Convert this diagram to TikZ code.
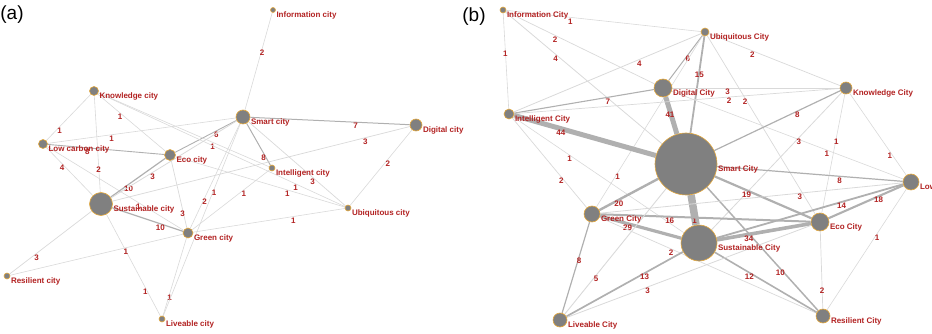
\documentclass[tikz,border=0pt]{standalone}
\usepackage{fontspec}
\setmainfont{Liberation Sans}
\usetikzlibrary{backgrounds}
\definecolor{labred}{RGB}{178,34,34}
\definecolor{citybrd}{RGB}{228,168,60}
\definecolor{cityfill}{RGB}{128,128,128}

\begin{document}
\begin{tikzpicture}[
  x=1pt, y=-1pt,
  font=\fontsize{8}{9.6}\selectfont\bfseries,
  city/.style ={circle, draw=citybrd, fill=cityfill, line width=0.6pt,
                inner sep=0pt, minimum size=#1},
  nlab/.style ={text=labred, inner sep=0.5pt, yshift=-5pt},
  elab/.style ={text=labred, inner sep=0pt, yshift=-4pt},
  lk/.style   ={draw=gray!30, line width=#1},
  hk/.style   ={draw=gray!62, line width=#1},
  panel/.style={font=\fontsize{19}{22}\selectfont}
]
\useasboundingbox (0,0) rectangle (932,334);

% ---------- Panel (a) ----------
\node[panel] (ta) at (12,15) {(a)};

\node[city=5pt,  label={[nlab]east:Information city}] (inf) at (273,10)  {};
\node[city=9pt,  label={[nlab]east:Knowledge city}]   (kno) at (94,91)   {};
\node[city=9pt,  label={[nlab]east:Low carbon city}]  (low) at (43,144)  {};
\node[city=11pt, label={[nlab]east:Eco city}]         (eco) at (170,155) {};
\node[city=14pt, label={[nlab]east:Smart city}]       (sma) at (243,117) {};
\node[city=12pt, label={[nlab]east:Digital city}]     (dig) at (416,125) {};
\node[city=6pt,  label={[nlab]east:Intelligent city}] (int) at (272,168) {};
\node[city=23pt, label={[nlab]east:Sustainable city}] (sus) at (101,204) {};
\node[city=6pt,  label={[nlab]east:Ubiquitous city}]  (ubi) at (348,208) {};
\node[city=10pt, label={[nlab]east:Green city}]       (gre) at (188,233) {};
\node[city=6pt,  label={[nlab]east:Resilient city}]   (res) at (7,276)   {};
\node[city=6pt,  label={[nlab]east:Liveable city}]    (liv) at (162,319) {};

\begin{scope}[on background layer]
  \draw[lk=0.6pt]  (inf) -- node[elab, pos=0.37] {2}  (sma);
  \draw[hk=1.0pt]  (sma) -- node[elab, pos=0.66] {7}  (dig);
  \draw[hk=0.9pt]  (sma) -- node[elab, pos=0.33] {6}  (eco);
  \draw[hk=1.0pt]  (sma) -- node[elab, pos=0.72] {8}  (int);
  \draw[lk=0.7pt]  (sma) -- node[elab, pos=0.66] {3}  (ubi);
  \draw[lk=0.6pt]  (dig) -- node[elab, pos=0.39] {2}  (ubi);
  \draw[lk=0.6pt]  (kno) -- node[elab, pos=0.70] {1}  (low);
  \draw[lk=0.6pt]  (kno) -- node[elab, pos=0.33] {1}  (eco);
  \draw[lk=0.6pt]  (kno) -- node[elab, pos=0.72] {2}  (sus);
  \draw[lk=0.6pt]  (kno) -- node[elab, pos=0.67] {1}  (int);
  \draw[lk=0.6pt]  (kno) -- node[elab, pos=0.80] {1}  (ubi);
  \draw[hk=0.9pt]  (low) -- node[elab, pos=0.34] {8}  (eco);
  \draw[lk=0.6pt]  (low) -- node[elab, pos=0.34] {1}  (sma);
  \draw[lk=0.6pt]  (low) -- node[elab, pos=0.34] {4}  (sus);
  \draw[lk=0.6pt]  (low) -- node[elab, pos=0.67] {1}  (gre);
  \draw[hk=1.2pt]  (sus) -- node[elab, pos=0.33] {10} (eco);
  \draw[lk=0.8pt]  (sus) -- node[elab, pos=0.33] {3}  (sma);
  \draw[hk=1.2pt]  (sus) -- node[elab, pos=0.68] {10} (gre);
  \draw[lk=0.7pt]  (sus) -- node[elab, pos=0.85] {3}  (dig);
  \draw[lk=0.7pt]  (sus) -- node[elab, pos=0.67] {3}  (res);
  \draw[lk=0.6pt]  (sus) -- node[elab, pos=0.72] {1}  (liv);
  \draw[lk=0.7pt]  (eco) -- node[elab, pos=0.73] {3}  (gre);
  \draw[lk=0.6pt]  (eco) -- node[elab, pos=0.66] {1}  (ubi);
  \draw[lk=0.6pt]  (gre) -- node[elab, pos=0.29] {2}  (sma);
  \draw[lk=0.6pt]  (gre) -- node[elab, pos=0.67] {1}  (int);
  \draw[lk=0.6pt]  (gre) -- node[elab, pos=0.66] {1}  (ubi);
  \draw[lk=0.6pt]  (gre) -- node[elab, pos=0.33] {1}  (res);
  \draw[lk=0.6pt]  (liv) -- node[elab, pos=0.28] {1}  (gre);
  \draw[lk=0.6pt]  (liv) -- node[elab, pos=0.66] {1}  (sma);
\end{scope}

% ---------- Panel (b) ----------
\node[panel] (tb) at (474,17) {(b)};

\node[city=6pt,  label={[nlab]east:Information City}] (binf) at (503,10)  {};
\node[city=8pt,  label={[nlab]east:Ubiquitous City}]  (bubi) at (705,32)  {};
\node[city=18pt, label={[nlab]east:Digital City}]     (bdig) at (663,88)  {};
\node[city=12pt, label={[nlab]east:Knowledge City}]   (bkno) at (846,88)  {};
\node[city=10pt, label={[nlab]east:Intelligent City}] (bint) at (509,114) {};
\node[city=62pt, label={[nlab]east:Smart City}]       (bsma) at (686,164) {};
\node[city=16pt, label={[nlab]east:Low}]              (blow) at (911,182) {};
\node[city=18pt, label={[nlab]east:Eco City}]         (beco) at (820,222) {};
\node[city=16pt, label={[nlab]east:Green City}]       (bgre) at (592,214) {};
\node[city=36pt, label={[nlab]east:Sustainable City}] (bsus) at (699,243) {};
\node[city=14pt, label={[nlab]east:Liveable City}]    (bliv) at (560,320) {};
\node[city=14pt, label={[nlab]east:Resilient City}]   (bres) at (823,316) {};

\begin{scope}[on background layer]
  \draw[lk=0.6pt]  (binf) -- node[elab, pos=0.33] {1}  (bubi);
  \draw[lk=0.6pt]  (binf) -- node[elab, pos=0.38] {1}  (bint);
  \draw[lk=0.7pt]  (binf) -- node[elab, pos=0.33] {2}  (bdig);
  \draw[lk=0.8pt]  (binf) -- node[elab, pos=0.32] {4}  (bsma);
  \draw[lk=0.8pt]  (bubi) -- node[elab, pos=0.33] {4}  (bint);
  \draw[hk=1.0pt]  (bubi) -- node[elab, pos=0.43] {6}  (bdig);
  \draw[hk=1.8pt]  (bubi) -- node[elab, pos=0.36] {15} (bsma);
  \draw[lk=0.7pt]  (bubi) -- node[elab, pos=0.33] {2}  (bkno);
  \draw[lk=0.7pt]  (bubi) -- node[elab, pos=0.35] {2}  (beco);
  \draw[lk=0.6pt]  (bubi) -- node[elab, pos=0.80] {1}  (bgre);
  \draw[hk=5.0pt]  (bdig) -- node[elab, pos=0.38] {41} (bsma);
  \draw[hk=1.1pt]  (bdig) -- node[elab, pos=0.33] {7}  (bint);
  \draw[lk=0.8pt]  (bdig) -- node[elab, pos=0.33] {3}  (bkno);
  \draw[lk=0.6pt]  (bdig) -- node[elab, pos=0.67] {1}  (blow);
  \draw[lk=0.7pt]  (bint) -- node[elab, pos=0.66] {2}  (bkno);
  \draw[hk=5.0pt]  (bint) -- node[elab, pos=0.33] {44} (bsma);
  \draw[lk=0.7pt]  (bint) -- node[elab, pos=0.66] {2}  (bgre);
  \draw[lk=0.6pt]  (bint) -- node[elab, pos=0.33] {1}  (bsus);
  \draw[hk=1.2pt]  (bkno) -- node[elab, pos=0.34] {8}  (bsma);
  \draw[lk=0.8pt]  (bkno) -- node[elab, pos=0.33] {3}  (bsus);
  \draw[lk=0.6pt]  (bkno) -- node[elab, pos=0.37] {1}  (beco);
  \draw[lk=0.6pt]  (bkno) -- node[elab, pos=0.71] {1}  (blow);
  \draw[hk=1.2pt]  (bsma) -- node[elab, pos=0.66] {8}  (blow);
  \draw[hk=2.2pt]  (bsma) -- node[elab, pos=0.33] {19} (beco);
  \draw[hk=7.5pt]  (bsma) -- node[elab, pos=0.72] {1}  (bsus);
  \draw[hk=1.5pt]  (bsma) -- node[elab, pos=0.66] {10} (bres);
  \draw[hk=2.4pt]  (bsma) -- node[elab, pos=0.67] {20} (bgre);
  \draw[hk=2.0pt]  (bgre) -- node[elab, pos=0.33] {16} (beco);
  \draw[hk=3.2pt]  (bgre) -- node[elab, pos=0.34] {29} (bsus);
  \draw[lk=0.8pt]  (bgre) -- node[elab, pos=0.66] {3}  (blow);
  \draw[lk=0.7pt]  (bgre) -- node[elab, pos=0.33] {2}  (bres);
  \draw[hk=3.6pt]  (bsus) -- node[elab, pos=0.34] {34} (beco);
  \draw[hk=1.6pt]  (bsus) -- node[elab, pos=0.34] {12} (bres);
  \draw[hk=1.8pt]  (bsus) -- node[elab, pos=0.67] {14} (blow);
  \draw[hk=2.1pt]  (beco) -- node[elab, pos=0.67] {18} (blow);
  \draw[lk=0.7pt]  (beco) -- node[elab, pos=0.72] {2}  (bres);
  \draw[lk=0.6pt]  (bres) -- node[elab, pos=0.63] {1}  (blow);
  \draw[hk=1.2pt]  (bliv) -- node[elab, pos=0.62] {8}  (bgre);
  \draw[lk=0.9pt]  (bliv) -- node[elab, pos=0.31] {5}  (bsma);
  \draw[hk=1.7pt]  (bliv) -- node[elab, pos=0.67] {13} (bsus);
  \draw[lk=0.8pt]  (bliv) -- node[elab, pos=0.33] {3}  (beco);
\end{scope}

\end{tikzpicture}
\end{document}
